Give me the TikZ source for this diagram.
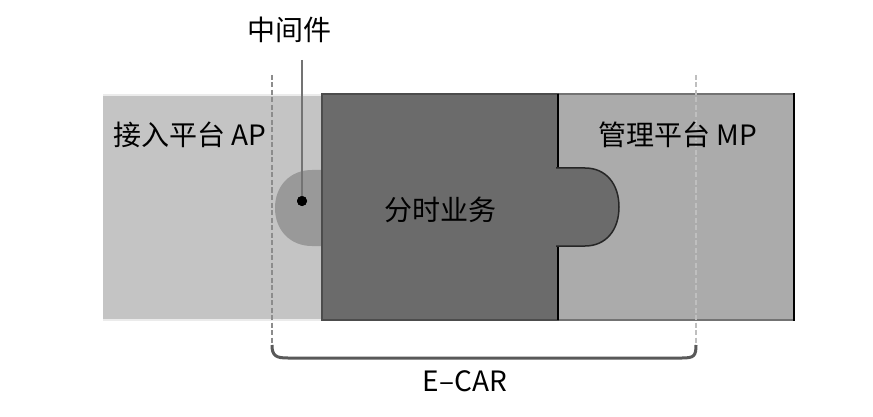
\documentclass[tikz,border=0pt]{standalone}
\usepackage{fontspec}
\setmainfont{Noto Sans CJK SC}
\begin{document}
\begin{tikzpicture}[x=1pt,y=-1pt,
  lbl/.style={font=\fontsize{28}{32}\selectfont, text=black, inner sep=0pt},
  guide/.style={line width=2.6pt, dash pattern=on 5pt off 2.5pt}]
\useasboundingbox (0,0) rectangle (873,417);
\definecolor{apgray}{HTML}{C4C4C4}
\definecolor{midgray}{HTML}{6B6B6B}
\definecolor{mpgray}{HTML}{ABABAB}
\definecolor{knobgray}{HTML}{999999}
% AP block
\fill[apgray] (103,95) rectangle (322,320);
\draw[line width=2pt, color=black!8] (103,95) -- (322,95);
\draw[line width=2pt, color=black!8] (103,320) -- (322,320);
% left knob
\fill[knobgray] (324,170) -- (312,170) .. controls (290,170) and (275,186) .. (275,208)
  .. controls (275,230) and (290,246) .. (312,246) -- (324,246) -- cycle;
% MP block
\fill[mpgray] (558,94) rectangle (794,320);
\draw[line width=2pt, color=black!55] (558,94) -- (794,94);
\draw[line width=2pt, color=black!55] (558,320) -- (794,320);
\draw[line width=2pt, color=black] (794,93) -- (794,321);
% middle block
\fill[midgray] (322,94) rectangle (558,320);
\draw[line width=2.5pt, color=black!70] (322,94) rectangle (558,320);
\draw[line width=1.5pt, color=black] (558,94) -- (558,320);
% right knob
\filldraw[fill=midgray, draw=black!85, line width=1.5pt]
  (556,168) -- (585,168) .. controls (606,168) and (619,184) .. (619,207)
  .. controls (619,230) and (606,246) .. (585,246) -- (556,246);
\fill[midgray] (552,169) rectangle (558.5,245);
% guides
\coordinate (gl1) at (272,75);
\coordinate (gl2) at (272,345);
\coordinate (gr1) at (696,75);
\coordinate (gr2) at (696,345);
\draw[guide, color=black!45] (gl1) -- (gl2);
\draw[guide, color=black!25] (gr1) -- (gr2);
% brace
\draw[line width=3pt, color=black!65] (gl2) .. controls (272,356) and (276,358) .. (288,358)
  -- (682,358) .. controls (694,358) and (696,356) .. (gr2);
% middleware pointer
\coordinate (ptop) at (302,60);
\node[circle, fill=black, inner sep=0pt, minimum size=10pt] (dot) at (302,201) {};
\draw[line width=2.6pt, color=black!55] (ptop) -- (dot.center);
\node[circle, fill=black, inner sep=0pt, minimum size=10pt] at (dot) {};
% labels
\node[lbl] (mw) at (289,30) {中间件};
\node[lbl] (ap) at (190,135) {接入平台 AP};
\node[lbl] (fs) at (440,210) {分时业务};
\node[lbl] (mp) at (678,135) {管理平台 MP};
\node[lbl] (ecar) at (465,381) {E–CAR};
\end{tikzpicture}
\end{document}
